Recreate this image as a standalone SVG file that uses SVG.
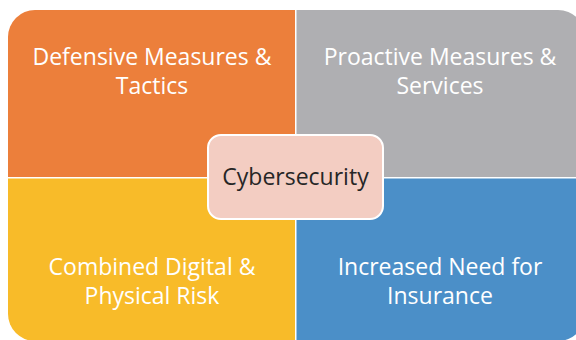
<svg xmlns="http://www.w3.org/2000/svg" width="576" height="340" viewBox="0 0 576 340">
<style>
.q{font-family:"Open Sans","Liberation Sans",sans-serif;font-size:23px;fill:#ffffff;text-anchor:middle}
.c{font-family:"Open Sans","Liberation Sans",sans-serif;font-size:23px;fill:#262626;text-anchor:middle}
</style>
<rect width="576" height="340" fill="#ffffff"/>
<g id="defensive">
<path d="M8,177 V37 A27,27 0 0 1 35,10 H295 V177 Z" fill="#EC7F3B"/>
<text class="q" x="152" y="65">Defensive Measures &amp;</text>
<text class="q" x="152" y="94">Tactics</text>
</g>
<g id="proactive">
<path d="M296.5,10 H558 A27,27 0 0 1 585,37 V177 H296.5 Z" fill="#AFAFB2"/>
<text class="q" x="440" y="65">Proactive Measures &amp;</text>
<text class="q" x="440" y="94">Services</text>
</g>
<g id="combined">
<path d="M8,178.5 H295 V341 H35 A27,27 0 0 1 8,314 Z" fill="#F8BB29"/>
<text class="q" x="152" y="275">Combined Digital &amp;</text>
<text class="q" x="152" y="304">Physical Risk</text>
</g>
<g id="insurance">
<path d="M296.5,178.5 H585 V314 A27,27 0 0 1 558,341 H296.5 Z" fill="#4B8FC8"/>
<text class="q" x="440" y="275">Increased Need for</text>
<text class="q" x="440" y="304">Insurance</text>
</g>
<g id="connectors"></g>
<g id="cybersecurity">
<rect x="208" y="135" width="175" height="84" rx="13" fill="#F3CDC2" stroke="#ffffff" stroke-width="2"/>
<text class="c" x="295.5" y="185">Cybersecurity</text>
</g>
</svg>
